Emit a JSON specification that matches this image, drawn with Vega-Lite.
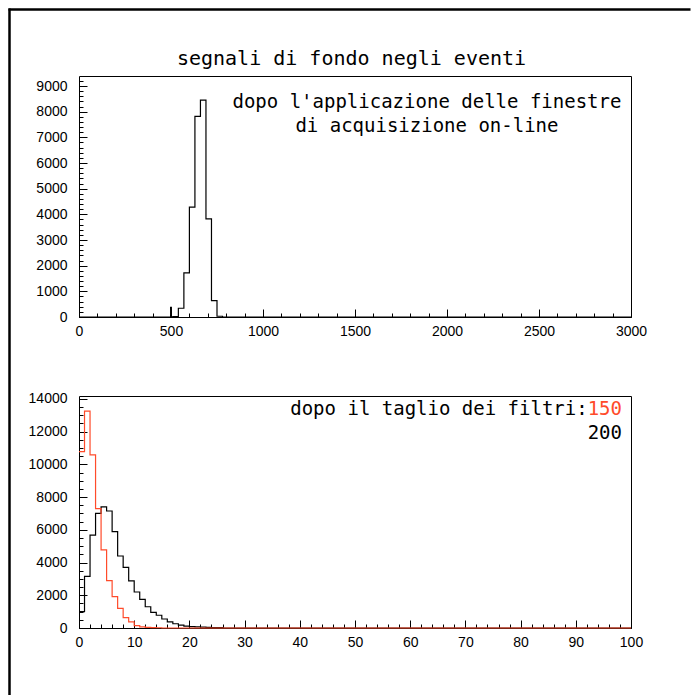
{
  "$schema": "https://vega.github.io/schema/vega-lite/v6.json",
  "width": 693,
  "height": 695,
  "autosize": "none",
  "padding": 0,
  "background": "white",
  "config": {
    "view": {"stroke": null},
    "axis": {
      "domainColor": "black", "tickColor": "black", "labelColor": "black",
      "labelFont": "Liberation Sans", "labelFontSize": 14, "format": "d",
      "tickWidth": 1, "domainWidth": 1, "grid": false,
      "labelOverlap": false, "labelFlush": false
    }
  },
  "datasets": {
    "top": [
      {"x": 0, "n": 0}, {"x": 498, "n": 380}, {"x": 502, "n": 0}, {"x": 510, "n": 15},
      {"x": 540, "n": 340}, {"x": 570, "n": 1720}, {"x": 600, "n": 4280}, {"x": 630, "n": 7820},
      {"x": 660, "n": 8450}, {"x": 690, "n": 3825}, {"x": 720, "n": 640}, {"x": 750, "n": 30},
      {"x": 780, "n": 0}, {"x": 3000, "n": 0}
    ],
    "f200": [
      {"x": 0, "n": 1000}, {"x": 1, "n": 3150}, {"x": 2, "n": 5680}, {"x": 3, "n": 7000},
      {"x": 4, "n": 7400}, {"x": 5, "n": 7150}, {"x": 6, "n": 5890}, {"x": 7, "n": 4400},
      {"x": 8, "n": 3700}, {"x": 9, "n": 2880}, {"x": 10, "n": 2200}, {"x": 11, "n": 1750},
      {"x": 12, "n": 1300}, {"x": 13, "n": 950}, {"x": 14, "n": 780}, {"x": 15, "n": 550},
      {"x": 16, "n": 380}, {"x": 17, "n": 260}, {"x": 18, "n": 180}, {"x": 19, "n": 120},
      {"x": 20, "n": 90}, {"x": 21, "n": 70}, {"x": 22, "n": 50}, {"x": 23, "n": 40},
      {"x": 24, "n": 30}, {"x": 25, "n": 20}, {"x": 26, "n": 0}, {"x": 100, "n": 0}
    ],
    "f150": [
      {"x": 0, "n": 10780}, {"x": 1, "n": 13250}, {"x": 2, "n": 10580}, {"x": 3, "n": 7300},
      {"x": 4, "n": 4780}, {"x": 5, "n": 2900}, {"x": 6, "n": 1915}, {"x": 7, "n": 1200},
      {"x": 8, "n": 640}, {"x": 9, "n": 370}, {"x": 10, "n": 150}, {"x": 11, "n": 70},
      {"x": 12, "n": 40}, {"x": 13, "n": 25}, {"x": 14, "n": 15}, {"x": 15, "n": 0},
      {"x": 100, "n": 0}
    ]
  },
  "resolve": {
    "scale": {"x": "independent", "y": "independent"},
    "axis": {"x": "independent", "y": "independent"}
  },
  "layer": [
    {
      "data": {"name": "top"},
      "mark": {"type": "line", "opacity": 0},
      "encoding": {
        "x": {"field": "x", "type": "quantitative", "scale": {"domain": [0, 3000], "range": [8, 690], "nice": false, "zero": false},
              "axis": {"orient": "top", "offset": -9, "ticks": false, "labels": false, "domainWidth": 2.5, "title": null}},
        "y": {"field": "n", "type": "quantitative", "scale": {"domain": [0, 9390], "range": [720, 8], "nice": false},
              "axis": {"orient": "left", "offset": -9, "ticks": false, "labels": false, "domainWidth": 2.5, "title": null}}
      }
    },
    {
      "data": {"name": "top"},
      "mark": {"type": "line", "interpolate": "step-after", "color": "black", "strokeWidth": 1.2},
      "encoding": {
        "x": {"field": "x", "type": "quantitative", "scale": {"domain": [0, 3000], "range": [79, 631], "nice": false, "zero": false},
              "axis": {"orient": "bottom", "offset": -378, "values": [0, 500, 1000, 1500, 2000, 2500, 3000], "tickSize": -8, "labelPadding": 15, "title": null}},
        "y": {"field": "n", "type": "quantitative", "scale": {"domain": [0, 9390], "range": [317, 76], "nice": false},
              "axis": {"orient": "left", "offset": -79, "values": [0, 1000, 2000, 3000, 4000, 5000, 6000, 7000, 8000, 9000], "tickSize": -8, "labelPadding": 20, "title": null}}
      }
    },
    {
      "data": {"name": "top"},
      "mark": {"type": "line", "opacity": 0},
      "encoding": {
        "x": {"field": "x", "type": "quantitative", "scale": {"domain": [0, 3000], "range": [79, 631], "nice": false, "zero": false},
              "axis": {"orient": "bottom", "offset": -378, "values": [0,100,200,300,400,500,600,700,800,900,1000,1100,1200,1300,1400,1500,1600,1700,1800,1900,2000,2100,2200,2300,2400,2500,2600,2700,2800,2900,3000], "tickSize": -4, "labels": false, "domain": false, "title": null}},
        "y": {"field": "n", "type": "quantitative", "scale": {"domain": [0, 9390], "range": [317, 76], "nice": false},
              "axis": {"orient": "left", "offset": -79, "values": [0,200,400,600,800,1000,1200,1400,1600,1800,2000,2200,2400,2600,2800,3000,3200,3400,3600,3800,4000,4200,4400,4600,4800,5000,5200,5400,5600,5800,6000,6200,6400,6600,6800,7000,7200,7400,7600,7800,8000,8200,8400,8600,8800,9000,9200], "tickSize": -4, "labels": false, "domain": false, "title": null}}
      }
    },
    {
      "data": {"name": "top"},
      "mark": {"type": "line", "opacity": 0},
      "encoding": {
        "x": {"field": "x", "type": "quantitative", "scale": {"domain": [0, 3000], "range": [79, 631], "nice": false, "zero": false},
              "axis": {"orient": "top", "offset": -76, "ticks": false, "labels": false, "title": null}},
        "y": {"field": "n", "type": "quantitative", "scale": {"domain": [0, 9390], "range": [317, 76], "nice": false},
              "axis": {"orient": "right", "offset": -62, "ticks": false, "labels": false, "title": null}}
      }
    },
    {
      "data": {"name": "f200"},
      "mark": {"type": "line", "interpolate": "step-after", "color": "black", "strokeWidth": 1.2},
      "encoding": {
        "x": {"field": "x", "type": "quantitative", "scale": {"domain": [0, 100], "range": [79, 631], "nice": false, "zero": false},
              "axis": {"orient": "bottom", "offset": -67, "values": [0, 10, 20, 30, 40, 50, 60, 70, 80, 90, 100], "tickSize": -8, "labelPadding": 15, "title": null}},
        "y": {"field": "n", "type": "quantitative", "scale": {"domain": [0, 14180], "range": [628, 396], "nice": false},
              "axis": {"orient": "left", "offset": -79, "values": [0, 2000, 4000, 6000, 8000, 10000, 12000, 14000], "tickSize": -8, "labelPadding": 20, "title": null}}
      }
    },
    {
      "data": {"name": "f150"},
      "mark": {"type": "line", "interpolate": "step-after", "color": "#ff4b2b", "strokeWidth": 1.2},
      "encoding": {
        "x": {"field": "x", "type": "quantitative", "scale": {"domain": [0, 100], "range": [79, 631], "nice": false, "zero": false},
              "axis": {"orient": "bottom", "offset": -67, "values": [0,2,4,6,8,10,12,14,16,18,20,22,24,26,28,30,32,34,36,38,40,42,44,46,48,50,52,54,56,58,60,62,64,66,68,70,72,74,76,78,80,82,84,86,88,90,92,94,96,98,100], "tickSize": -4, "labels": false, "domain": false, "title": null}},
        "y": {"field": "n", "type": "quantitative", "scale": {"domain": [0, 14180], "range": [628, 396], "nice": false},
              "axis": {"orient": "left", "offset": -79, "values": [0,500,1000,1500,2000,2500,3000,3500,4000,4500,5000,5500,6000,6500,7000,7500,8000,8500,9000,9500,10000,10500,11000,11500,12000,12500,13000,13500,14000], "tickSize": -4, "labels": false, "domain": false, "title": null}}
      }
    },
    {
      "data": {"name": "f200"},
      "mark": {"type": "line", "opacity": 0},
      "encoding": {
        "x": {"field": "x", "type": "quantitative", "scale": {"domain": [0, 100], "range": [79, 631], "nice": false, "zero": false},
              "axis": {"orient": "top", "offset": -396, "ticks": false, "labels": false, "title": null}},
        "y": {"field": "n", "type": "quantitative", "scale": {"domain": [0, 14180], "range": [628, 396], "nice": false},
              "axis": {"orient": "right", "offset": -62, "ticks": false, "labels": false, "title": null}}
      }
    },
    {
      "data": {"values": [{}]},
      "mark": {"type": "text", "text": "segnali di fondo negli eventi", "font": "DejaVu Sans Mono", "fontSize": 20, "align": "center", "baseline": "alphabetic", "color": "black"},
      "encoding": {
        "x": {"datum": 1481, "type": "quantitative", "scale": {"domain": [0, 3000], "range": [79, 631], "nice": false, "zero": false}, "axis": null},
        "y": {"datum": 9818, "type": "quantitative", "scale": {"domain": [0, 9390], "range": [317, 76], "nice": false}, "axis": null}
      }
    },
    {
      "data": {"values": [{}]},
      "mark": {"type": "text", "text": ["dopo l'applicazione delle finestre", "di acquisizione on-line"], "font": "DejaVu Sans Mono", "fontSize": 19, "lineHeight": 24, "align": "center", "baseline": "alphabetic", "color": "black"},
      "encoding": {
        "x": {"datum": 1891, "type": "quantitative", "scale": {"domain": [0, 3000], "range": [79, 631], "nice": false, "zero": false}, "axis": null},
        "y": {"datum": 8143, "type": "quantitative", "scale": {"domain": [0, 9390], "range": [317, 76], "nice": false}, "axis": null}
      }
    },
    {
      "data": {"values": [{}]},
      "mark": {"type": "text", "text": "dopo il taglio dei filtri:", "font": "DejaVu Sans Mono", "fontSize": 19, "align": "right", "baseline": "alphabetic", "color": "black"},
      "encoding": {
        "x": {"datum": 92.15, "type": "quantitative", "scale": {"domain": [0, 100], "range": [79, 631], "nice": false, "zero": false}, "axis": null},
        "y": {"datum": 13019, "type": "quantitative", "scale": {"domain": [0, 14180], "range": [628, 396], "nice": false}, "axis": null}
      }
    },
    {
      "data": {"values": [{}]},
      "mark": {"type": "text", "text": "150", "font": "DejaVu Sans Mono", "fontSize": 19, "align": "right", "baseline": "alphabetic", "color": "#ff4b2b"},
      "encoding": {
        "x": {"datum": 98.37, "type": "quantitative", "scale": {"domain": [0, 100], "range": [79, 631], "nice": false, "zero": false}, "axis": null},
        "y": {"datum": 13019, "type": "quantitative", "scale": {"domain": [0, 14180], "range": [628, 396], "nice": false}, "axis": null}
      }
    },
    {
      "data": {"values": [{}]},
      "mark": {"type": "text", "text": "200", "font": "DejaVu Sans Mono", "fontSize": 19, "align": "right", "baseline": "alphabetic", "color": "black"},
      "encoding": {
        "x": {"datum": 98.37, "type": "quantitative", "scale": {"domain": [0, 100], "range": [79, 631], "nice": false, "zero": false}, "axis": null},
        "y": {"datum": 11552, "type": "quantitative", "scale": {"domain": [0, 14180], "range": [628, 396], "nice": false}, "axis": null}
      }
    }
  ]
}
